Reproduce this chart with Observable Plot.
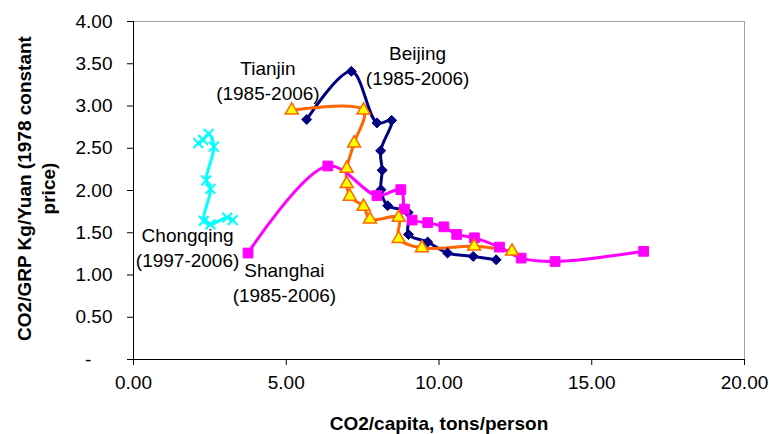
<!DOCTYPE html>
<html>
<head>
<meta charset="utf-8">
<script src="https://cdn.jsdelivr.net/npm/d3@7"></script>
<script src="https://cdn.jsdelivr.net/npm/@observablehq/plot@0.6"></script>
<style>
  html, body { margin: 0; padding: 0; background: #fff; }
  #chart svg { display: block; }
</style>
</head>
<body>
<div id="chart"></div>
<script>
// ---- Data ----
const beijingX  = [5.67, 7.13, 7.97, 8.45, 8.09, 8.14, 8.10, 8.32, 8.99, 9.00, 9.63, 10.28, 11.12, 11.87];
const beijingY  = [2.84, 3.41, 2.80, 2.83, 2.47, 2.24, 2.01, 1.82, 1.74, 1.48, 1.39, 1.26, 1.22, 1.18];

const tianjinX  = [5.18, 7.53, 7.22, 6.98, 6.98, 7.08, 7.53, 7.74, 8.68, 8.68, 9.44, 11.15, 12.39];
const tianjinY  = [2.95, 2.95, 2.56, 2.26, 2.08, 1.93, 1.81, 1.66, 1.68, 1.43, 1.32, 1.34, 1.28];

const shanghaiX = [3.75, 6.36, 7.97, 8.75, 8.87, 9.12, 9.63, 10.16, 10.58, 11.16, 11.98, 12.69, 13.80, 16.70];
const shanghaiY = [1.26, 2.29, 1.94, 2.01, 1.78, 1.65, 1.62, 1.57, 1.48, 1.44, 1.33, 1.20, 1.16, 1.28];

const chongqingX = [2.12, 2.28, 2.46, 2.63, 2.38, 2.52, 2.30, 2.52, 3.07, 3.25];
const chongqingY = [2.56, 2.60, 2.67, 2.52, 2.12, 2.02, 1.64, 1.60, 1.68, 1.65];

const xTicks = [0, 5, 10, 15, 20];
const yTicks = [0, 0.5, 1, 1.5, 2, 2.5, 3, 3.5, 4];

const labelText = ["Tianjin\n(1985-2006)", "Beijing\n(1985-2006)", "Chongqing\n(1997-2006)", "Shanghai\n(1985-2006)"];
const labelX    = [4.40, 9.30, 1.77, 4.94];
const labelY    = [3.31, 3.49, 1.34, 0.92];

const xTitle = "CO2/capita, tons/person";
const yTitle = "CO2/GRP Kg/Yuan (1978 constant\nprice)";

// ---- Build tables ----
const zip = (xs, ys) => xs.map((x, i) => ({x, y: ys[i]}));
const beijing = zip(beijingX, beijingY);
const tianjin = zip(tianjinX, tianjinY);
const shanghai = zip(shanghaiX, shanghaiY);
const chongqing = zip(chongqingX, chongqingY);
const labels = labelText.map((t, i) => ({text: t, x: labelX[i], y: labelY[i]}));

const NAVY = "#000080", ORANGE = "#FF6600", YELLOW = "#FFFF00", MAGENTA = "#FF00FF", CYAN = "#00FFFF";
const FS = 19;

const chart = Plot.plot({
  width: 769,
  height: 434,
  marginLeft: 133,
  marginRight: 25,
  marginTop: 21,
  marginBottom: 75,
  style: {fontFamily: "'Liberation Sans', Arial, sans-serif", fontSize: FS + "px", color: "#000", background: "#fff", overflow: "visible"},
  x: {domain: [0, 20]},
  y: {domain: [0, 4]},
  marks: [
    Plot.frame({stroke: "#a0a0a0", strokeWidth: 1}),
    Plot.axisX({ticks: xTicks, tickFormat: d => d.toFixed(2), tickSize: 6, tickPadding: 10, label: null, fontSize: FS}),
    Plot.axisY({ticks: yTicks, tickFormat: d => d === 0 ? "-\u00a0\u00a0\u00a0\u00a0" : d.toFixed(2), tickSize: 6, tickPadding: 15, label: null, fontSize: FS}),
    Plot.ruleX([0], {stroke: "#000", strokeWidth: 1}),
    Plot.ruleY([0], {stroke: "#000", strokeWidth: 1}),
    // lines
    Plot.line(beijing, {x: "x", y: "y", stroke: NAVY, strokeWidth: 3, curve: "catmull-rom"}),
    Plot.line(tianjin, {x: "x", y: "y", stroke: ORANGE, strokeWidth: 3, curve: "catmull-rom"}),
    Plot.line(shanghai, {x: "x", y: "y", stroke: MAGENTA, strokeWidth: 3, curve: "catmull-rom"}),
    Plot.line(chongqing, {x: "x", y: "y", stroke: CYAN, strokeWidth: 3, curve: "catmull-rom"}),
    // markers
    Plot.dot(beijing, {x: "x", y: "y", symbol: "diamond2", r: 4.5, fill: NAVY, stroke: NAVY, strokeWidth: 1}),
    Plot.dot(shanghai, {x: "x", y: "y", symbol: "square", r: 5.5, fill: MAGENTA, stroke: MAGENTA, strokeWidth: 1}),
    Plot.dot(tianjin, {x: "x", y: "y", symbol: "triangle", r: 4.8, fill: YELLOW, stroke: ORANGE, strokeWidth: 1.5}),
    Plot.dot(chongqing, {x: "x", y: "y", symbol: "times", r: 4.5, stroke: CYAN, strokeWidth: 2}),
    // annotations
    Plot.text(labels, {x: "x", y: "y", text: "text", fontSize: FS, lineHeight: 1.3, fill: "#000"}),
    // axis titles
    Plot.text([xTitle], {frameAnchor: "bottom", textAnchor: "middle", lineAnchor: "middle", dy: 64, fontWeight: "bold", fontSize: FS, fill: "#000"}),
    Plot.text([yTitle], {frameAnchor: "left", textAnchor: "middle", lineAnchor: "middle", rotate: -90, dx: -98, dy: -2, fontWeight: "bold", fontSize: FS, lineHeight: 1.26, fill: "#000"})
  ]
});
document.getElementById("chart").appendChild(chart);
</script>
</body>
</html>
